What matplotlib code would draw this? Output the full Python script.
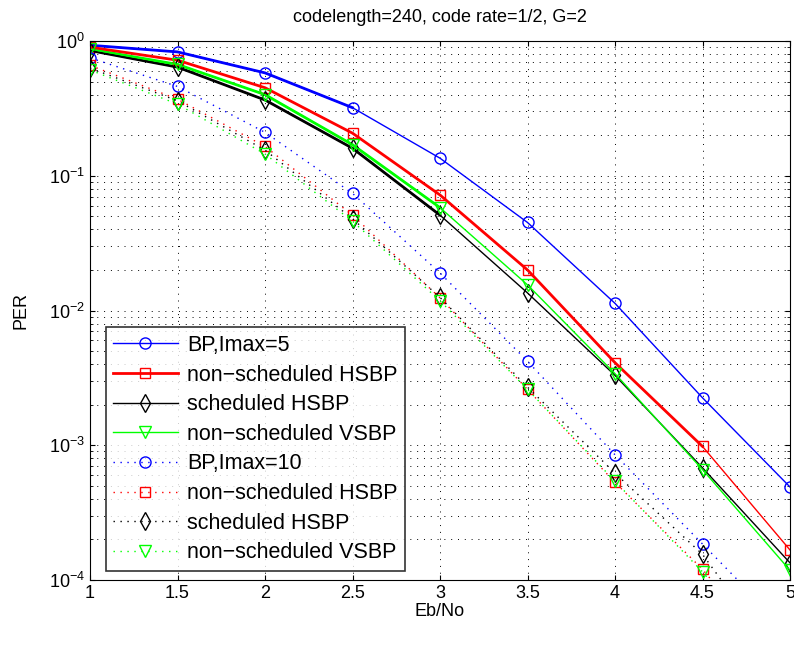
import matplotlib
matplotlib.use("Agg")
import matplotlib.pyplot as plt
from matplotlib.ticker import LogLocator, NullFormatter

plt.rcParams['font.family'] = ['Liberation Sans', 'DejaVu Sans']

ebno = [1, 1.5, 2, 2.5, 3, 3.5, 4, 4.5, 5]

# Imax = 5 (solid)
bp5 = [0.93, 0.83, 0.58, 0.32, 0.135, 0.045, 0.0113, 0.00225, 0.00049]
nsh5 = [0.90, 0.72, 0.45, 0.207, 0.072, 0.020, 0.0041, 0.00098, 0.000167]
sh5 = [0.85, 0.64, 0.365, 0.16, 0.051, 0.0135, 0.0033, 0.00068, 0.000134]
nsv5 = [0.87, 0.67, 0.40, 0.17, 0.058, 0.0155, 0.0034, 0.00066, 0.000118]

# Imax = 10 (dotted)
bp10 = [0.75, 0.46, 0.21, 0.074, 0.019, 0.0042, 0.00085, 0.000185, 0.00004]
nsh10 = [0.66, 0.37, 0.165, 0.051, 0.0124, 0.0026, 0.00053, 0.00012, 0.00002]
sh10 = [0.63, 0.36, 0.155, 0.048, 0.0125, 0.0027, 0.00062, 0.000155, 0.00002]
nsv10 = [0.61, 0.34, 0.145, 0.046, 0.0118, 0.0026, 0.00054, 0.000115, 0.00002]

labels = ['BP,Imax=5', 'non\u2212scheduled HSBP', 'scheduled HSBP',
          'non\u2212scheduled VSBP', 'BP,Imax=10', 'non\u2212scheduled HSBP',
          'scheduled HSBP', 'non\u2212scheduled VSBP']

fig = plt.figure(figsize=(7.94, 6.49), dpi=100)
ax = fig.add_axes([90 / 794, 1 - 580 / 649, 700 / 794, 539 / 649])

ms = 7.5
dot = (0, (1, 4))
# thicker start sections, as in the original figure
ax.plot(ebno[:4], bp5[:4], color='blue', lw=2)
ax.plot(ebno[:5], sh5[:5], color='black', lw=2)
ax.plot(ebno[:5], nsv5[:5], color='#00ff00', lw=2)
ax.plot(ebno[7:], nsh5[7:], color='red', lw=1)

h = []
h += ax.plot(ebno, bp5, '-o', color='blue', lw=1, ms=ms + 0.5, mfc='none')
h += ax.plot(ebno[:8], nsh5[:8], '-s', color='red', lw=2, ms=ms, mfc='none')
h += ax.plot(ebno, sh5, '-d', color='black', lw=1, ms=ms + 1.5, mfc='none')
h += ax.plot(ebno, nsv5, '-v', color='#00ff00', lw=1, ms=ms + 1, mfc='none')
h += ax.plot(ebno, bp10, 'o', ls=dot, color='blue', lw=1, ms=ms + 0.5, mfc='none')
h += ax.plot(ebno, nsh10, 's', ls=dot, color='red', lw=1, ms=ms, mfc='none')
h += ax.plot(ebno, sh10, 'd', ls=dot, color='black', lw=1, ms=ms + 1.5, mfc='none')
h += ax.plot(ebno, nsv10, 'v', ls=dot, color='#00ff00', lw=1, ms=ms + 1, mfc='none')
ax.plot(ebno[8:], nsh5[8:], 's', color='red', ms=ms, mfc='none')

ax.set_yscale('log')
ax.set_xlim(1, 5)
ax.set_ylim(1e-4, 1)
ax.set_xticks(ebno)
ax.set_xticklabels(['1', '1.5', '2', '2.5', '3', '3.5', '4', '4.5', '5'])
ax.yaxis.set_minor_locator(LogLocator(base=10, subs=range(2, 10)))
ax.yaxis.set_minor_formatter(NullFormatter())
ax.tick_params(which='both', direction='in', top=True, right=True, labelsize=13)
ax.grid(True, which='major', linestyle=(0, (1, 6)), color='black', lw=0.7)
ax.grid(True, which='minor', axis='y', linestyle=(0, (1, 6)), color='black', lw=0.7)

ax.set_title('codelength=240, code rate=1/2, G=2', fontsize=13, pad=14)
ax.set_xlabel('Eb/No', fontsize=13, labelpad=1)
ax.set_ylabel('PER', fontsize=13, labelpad=14)

leg = ax.legend(h, labels, loc='lower left', bbox_to_anchor=(0.013, 0.005),
                fontsize=15.5, frameon=True, fancybox=False, edgecolor='black',
                handlelength=3.0, handletextpad=0.45, labelspacing=0.4,
                borderpad=0.35, borderaxespad=0.3)
leg.get_frame().set_linewidth(1.2)

fig.savefig('out.png', dpi=100)
